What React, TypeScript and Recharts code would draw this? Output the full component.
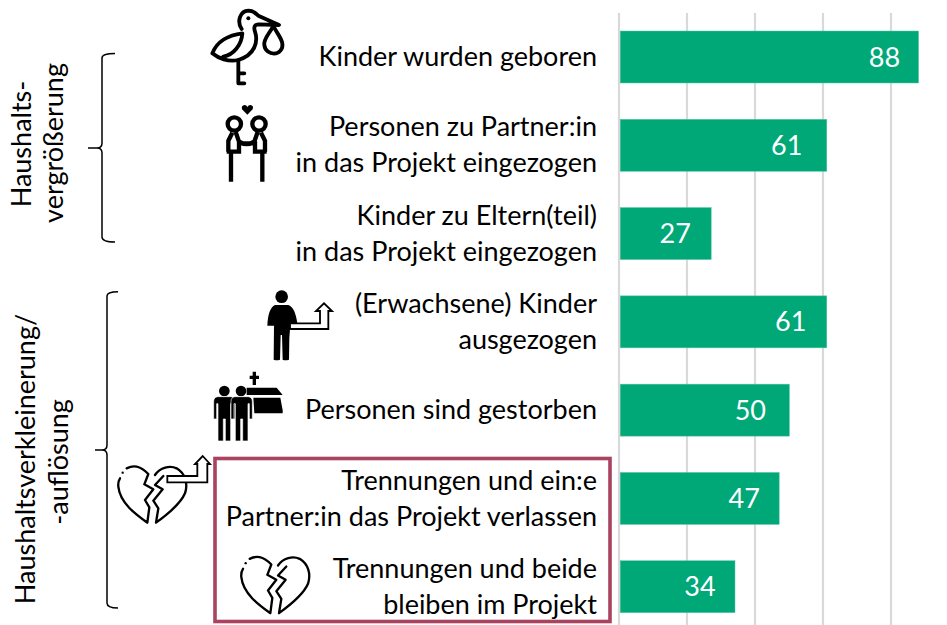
import React from "react";
import { BarChart, Bar, XAxis, YAxis, CartesianGrid, LabelList } from "recharts";

const categories = [
  "Kinder wurden geboren",
  "Personen zu Partner:in\nin das Projekt eingezogen",
  "Kinder zu Eltern(teil)\nin das Projekt eingezogen",
  "(Erwachsene) Kinder\nausgezogen",
  "Personen sind gestorben",
  "Trennungen und ein:e\nPartner:in das Projekt verlassen",
  "Trennungen und beide\nbleiben im Projekt",
];
const values = [88, 61, 27, 61, 50, 47, 34];
const gridTicks = [0, 20, 40, 60, 80];
const data = categories.map((category, i) => ({ category, value: values[i] }));

const FONT = "Lato, 'Open Sans', sans-serif";
const TEXT = "#000000";
const GREEN = "#00A878";
const BOX = "#A94360";
const FS = 27;
const LINE = 36;

const CategoryTick = (props: any) => {
  const { x, y, payload } = props;
  const lines = String(payload.value).split("\n");
  return (
    <g>
      {lines.map((line: string, i: number) => (
        <text key={i} x={x} y={y + (i - (lines.length - 1) / 2) * LINE + 9} textAnchor="end" fontFamily={FONT} fontSize={FS} fill={TEXT}>
          {line}
        </text>
      ))}
    </g>
  );
};

const BarShape = (props: any) => {
  const { x, y, width, height } = props;
  return <rect x={x + 1.2} y={y} width={width - 0.8} height={height} fill={GREEN} stroke="#5CC7A6" strokeWidth={0.5} />;
};

const labelShift = [-2, 4, 0, 0, 3, -1, -1];
const ValueLabel = (props: any) => {
  const { x, y, width, height, value, index } = props;
  return (
    <text x={x + width - 20 - labelShift[index]} y={y + height / 2 + 9.5} textAnchor="end" fontFamily={FONT} fontSize={FS} fill="#ffffff">
      {value}
    </text>
  );
};

const Rotated = ({ x, y, children }: any) => (
  <text transform={`translate(${x},${y}) rotate(-90)`} textAnchor="middle" fontFamily={FONT} fontSize={FS} fill={TEXT}>
    {children}
  </text>
);

const Heart = ({ dx, dy }: any) => (
  <g transform={`translate(${dx},${dy}) scale(${1 / 3})`} fill="none" stroke="#000" strokeWidth={7} strokeLinejoin="round" strokeLinecap="round">
    <path d="M30 85C24 94 24 100 25 110C30 160 80 195 112 218L118 172L105 150L130 118L103 103L115 72C105 62 95 53 80 50C70 48 60 50 50 55" />
    <circle cx={38} cy={68} r={3.5} fill="#000" stroke="none" />
    <path d="M135 75C150 52 180 45 200 55C225 70 235 100 225 130C210 165 170 195 138 218L145 175L130 152L158 118L135 105L160 78" />
  </g>
);

const Arrow = ({ d }: any) => <path d={d} fill="#fff" stroke="#000" strokeWidth={5.5} strokeLinejoin="miter" />;

const PersonSolid = () => (
  <path d="M26 110Q26 96 38 95H78Q90 96 90 110V162H81V116H77V228H61V162H55V228H39V116H35V162H26Z" fill="#000" stroke="#fff" strokeWidth={2} />
);

const Overlay = () => (
  <svg width={947} height={625} style={{ position: "absolute", left: 0, top: 0, pointerEvents: "none" }}>
    <Rotated x={31} y={144}>Haushalts-</Rotated>
    <Rotated x={63} y={143}>vergrößerung</Rotated>
    <Rotated x={35} y={459}>Haushaltsverkleinerung/</Rotated>
    <Rotated x={68} y={462}>-auflösung</Rotated>

    <path d="M115 53.5Q102 53.5 102 58V143Q102 148 97 148H88H97Q102 148 102 153V237Q102 242 115 242" fill="none" stroke="#000" strokeWidth={1.5} />
    <path d="M118 291.7Q107 291.7 107 296V445Q107 450 102 450H95H102Q107 450 107 455V603Q107 608 118 608" fill="none" stroke="#000" strokeWidth={1.5} />

    <rect x={215} y={458.5} width={395} height={163} fill="none" stroke={BOX} strokeWidth={3.6} />

    {/* stork */}
    <g transform="translate(205,5) scale(0.3333)" fill="none" stroke="#000" strokeWidth={11.5} strokeLinejoin="round" strokeLinecap="round">
      <path d="M110 72C95 50 105 18 130 17C150 17 155 30 160 32L222 60L160 58C150 58 145 65 150 80C160 110 150 150 100 165C70 172 40 160 22 145C35 110 70 90 112 85C110 120 85 150 55 155" />
      <path d="M178 120C175 100 195 85 205 62C212 80 228 95 232 115C235 132 222 146 207 146C195 146 180 138 178 120Z" />
      <path d="M100 165V235H118M100 205H118" />
      <circle cx={130} cy={40} r={6} fill="#000" stroke="none" />
    </g>

    {/* couple */}
    <g transform="translate(215,100) scale(0.3333)" fill="none" stroke="#000" strokeWidth={13}>
      <path d="M97 44L81 28Q78 16 89 15Q95 15 97 21Q100 15 106 15Q117 16 113 28Z" fill="#000" stroke="none" />
      <circle cx={58} cy={72} r={20} />
      <circle cx={132} cy={72} r={20} />
      <path d="M48 245V155M40 155V122L52 98M62 96L72 125Q95 140 118 125L128 96M138 98L150 122V155M142 245V155M35 155H72V130H120V155H155" />
    </g>

    {/* person with arrow */}
    <g transform="translate(260,285) scale(0.3333)">
      <circle cx={65} cy={35} r={19} fill="#000" />
      <path d="M22 122Q24 70 45 60H85Q105 66 112 115V132H90L88 160L87 224Q75 228 68 224L66 150H62L60 224Q50 228 41 224L42 122Z" fill="#000" />
      <Arrow d="M90 115H180V78H168L192 55L216 78H205V132H90Z" />
    </g>

    {/* funeral */}
    <g transform="translate(205,365) scale(0.3333)">
      <path d="M143 20H153V32H162V42H153V60H143V42H134V32H143Z" fill="#000" />
      <path d="M125 68H215L233 90H125Z" fill="#000" />
      <path d="M145 98H226L233 135V145H148Z" fill="#000" />
      <circle cx={58} cy={78} r={16} fill="#000" />
      <circle cx={108} cy={78} r={16} fill="#000" />
      <g><PersonSolid /></g>
      <g transform="translate(52,0)"><PersonSolid /></g>
    </g>

    {/* hearts */}
    <Heart dx={110} dy={450} />
    <g transform="translate(110,450) scale(0.3333)">
      <Arrow d="M172 78H262V42H255L278 18L300 42H292V97H172Z" />
    </g>
    <Heart dx={233} dy={540.5} />
  </svg>
);

export default function App() {
  return (
    <div style={{ position: "fixed", left: 0, top: 0, width: 947, height: 625, overflow: "hidden", background: "#fff" }}>
      <BarChart
        width={947}
        height={631}
        data={data}
        layout="vertical"
        margin={{ top: 13, right: 5, bottom: 0, left: 20 }}
        barSize={52}
      >
        <CartesianGrid horizontal={false} vertical stroke="#D9D9D9" strokeWidth={2.2} verticalValues={gridTicks} />
        <XAxis type="number" domain={[0, 95]} ticks={gridTicks} hide />
        <YAxis
          type="category"
          dataKey="category"
          width={599}
          interval={0}
          tickLine={false}
          axisLine={false}
          tickMargin={16}
          tick={<CategoryTick />}
        />
        <Bar dataKey="value" isAnimationActive={false} shape={<BarShape />}>
          <LabelList dataKey="value" content={<ValueLabel />} />
        </Bar>
      </BarChart>
      <Overlay />
    </div>
  );
}
